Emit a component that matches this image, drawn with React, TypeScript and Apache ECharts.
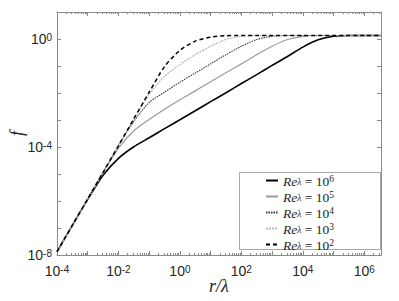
import React, { useEffect, useRef } from 'react';
import * as echarts from 'echarts';

// r / lambda sample positions
const rValues = [1e-4, 3.16e-4, 1e-3, 3.16e-3, 1e-2, 3.16e-2, 0.1, 0.316, 1, 3.16, 10, 31.6, 100, 316, 1e3, 3.16e3, 1e4, 3.16e4, 1e5, 3.16e5, 1e6, 3.5e6];

// f values, one array per Re_lambda
const fRe6 = [1.32e-8, 1.26e-7, 1.15e-6, 8.91e-6, 3.8e-5, 1.02e-4, 2.19e-4, 4.79e-4, 1.02e-3, 2.19e-3, 4.79e-3, 1.02e-2, 2.24e-2, 4.79e-2, 0.105, 0.224, 0.5, 0.93, 1.26, 1.35, 1.35, 1.35];
const fRe5 = [1.32e-8, 1.26e-7, 1.2e-6, 1.15e-5, 8.91e-5, 3.98e-4, 1.05e-3, 2.51e-3, 5.62e-3, 1.2e-2, 2.63e-2, 5.62e-2, 0.12, 0.263, 0.537, 0.955, 1.26, 1.35, 1.35, 1.35, 1.35, 1.35];
const fRe4 = [1.32e-8, 1.26e-7, 1.2e-6, 1.15e-5, 1.12e-4, 8.91e-4, 4.47e-3, 1.07e-2, 2.51e-2, 5.5e-2, 0.12, 0.263, 0.537, 0.955, 1.26, 1.35, 1.35, 1.35, 1.35, 1.35, 1.35, 1.35];
const fRe3 = [1.32e-8, 1.26e-7, 1.2e-6, 1.15e-5, 1.12e-4, 1.1e-3, 8.91e-3, 4.17e-2, 0.112, 0.263, 0.537, 0.955, 1.26, 1.35, 1.35, 1.35, 1.35, 1.35, 1.35, 1.35, 1.35, 1.35];
const fRe2 = [1.32e-8, 1.26e-7, 1.2e-6, 1.15e-5, 1.12e-4, 1.1e-3, 1.07e-2, 9.55e-2, 0.38, 0.832, 1.175, 1.32, 1.35, 1.35, 1.35, 1.35, 1.35, 1.35, 1.35, 1.35, 1.35, 1.35];

const seriesNames = ['Re6', 'Re5', 'Re4', 'Re3', 'Re2'];
const reExponents = ['6', '5', '4', '3', '2'];
const xLabelExponents = [-4, -2, 0, 2, 4, 6];
const yLabelExponents = [-8, -4, 0];

const xMin = 1e-4;
const xMax = 3.5e6;
const yMin = 1e-8;
const yMax = 10;

const AXIS_COLOR = '#8a8a8a';
const TEXT_COLOR = '#262626';

function powLabel(v: number, allowed: number[]) {
  const l = Math.log10(v);
  const e = Math.round(l);
  if (Math.abs(l - e) > 1e-6) return '';
  if (!allowed.includes(e)) return '';
  return `{b|10}{s|${e}}`;
}

const labelRich = {
  b: { fontSize: 14, lineHeight: 14, fontFamily: 'Liberation Sans', color: TEXT_COLOR, padding: [5, 0, 0, 0], verticalAlign: 'bottom' },
  s: { fontSize: 10, lineHeight: 10, fontFamily: 'Liberation Sans', color: TEXT_COLOR, verticalAlign: 'top' },
};

export default function App() {
  const ref = useRef<HTMLDivElement>(null);
  useEffect(() => {
    const chart = echarts.init(ref.current!, null, { renderer: 'svg' });
    const dataSets = [fRe6, fRe5, fRe4, fRe3, fRe2];
    const styles = [
      { color: '#000000', width: 1.6, type: 'solid' as any },
      { color: '#9a9a9a', width: 1.2, type: 'solid' as any },
      { color: '#3a3a3a', width: 1.1, type: [1.5, 1] as any },
      { color: '#b8b8b8', width: 1.2, type: [2, 1] as any },
      { color: '#000000', width: 1.5, type: [4, 3] as any },
    ];
    const series = seriesNames.map((name, i) => ({
      name,
      type: 'line',
      xAxisIndex: 0,
      yAxisIndex: 0,
      symbol: 'none',
      smooth: 0.25,
      z: 2,
      lineStyle: styles[i],
      itemStyle: { color: styles[i].color },
      data: rValues.map((r, j) => [r, dataSets[i][j]]),
    }));

    const baseX = {
      type: 'log',
      logBase: 10,
      min: xMin,
      max: xMax,
      interval: 1,
      axisLine: { show: true, onZero: false, lineStyle: { color: AXIS_COLOR, width: 1 } },
      axisTick: { show: true, inside: true, length: 4, lineStyle: { color: AXIS_COLOR } },
      minorTick: { show: true, splitNumber: 9, length: 2, lineStyle: { color: AXIS_COLOR } },
      splitLine: { show: false },
      minorSplitLine: { show: false },
    };
    const baseY = {
      type: 'log',
      logBase: 10,
      min: yMin,
      max: yMax,
      interval: 1,
      axisLine: { show: true, onZero: false, lineStyle: { color: AXIS_COLOR, width: 1 } },
      axisTick: { show: true, inside: true, length: 4, lineStyle: { color: AXIS_COLOR } },
      splitLine: { show: false },
    };

    chart.setOption({
      animation: false,
      backgroundColor: '#ffffff',
      grid: { left: 57, right: 18, top: 12, bottom: 46, containLabel: false, outerBoundsMode: 'none' },
      xAxis: [
        {
          ...baseX,
          position: 'bottom',
          name: 'r/λ',
          nameLocation: 'middle',
          nameGap: 22,
          nameMoveOverlap: false,
          nameTextStyle: { fontFamily: 'Liberation Serif', fontStyle: 'italic', fontSize: 18, color: TEXT_COLOR },
          axisLabel: {
            show: true,
            margin: 9,
            formatter: (v: number) => powLabel(v, xLabelExponents),
            rich: labelRich,
          },
        },
        { ...baseX, position: 'top', axisLabel: { show: false } },
      ],
      yAxis: [
        {
          ...baseY,
          position: 'left',
          name: 'f',
          nameLocation: 'middle',
          nameGap: 31,
          nameMoveOverlap: false,
          nameTextStyle: { fontFamily: 'Liberation Serif', fontStyle: 'italic', fontSize: 18, color: TEXT_COLOR },
          axisLabel: {
            show: true,
            margin: 5,
            formatter: (v: number) => powLabel(v, yLabelExponents),
            rich: labelRich,
          },
        },
        { ...baseY, position: 'right', axisLabel: { show: false } },
      ],
      graphic: [
        {
          type: 'rect',
          z: 10,
          shape: { x: 239.5, y: 172.5, width: 141, height: 77 },
          style: { fill: '#ffffff', stroke: '#a8a8a8', lineWidth: 1 },
        },
      ],
      legend: {
        show: true,
        z: 20,
        orient: 'vertical',
        left: 265,
        top: 171,
        data: seriesNames,
        itemWidth: 12,
        itemHeight: 10,
        itemGap: -3,
        padding: 0,
        itemStyle: { opacity: 0, borderWidth: 0 },
        formatter: (name: string) => {
          const i = seriesNames.indexOf(name);
          return `{i|Re}{l|λ}{t| = 10}{p|${reExponents[i]}}`;
        },
        textStyle: {
          color: TEXT_COLOR,
          rich: {
            i: { fontFamily: 'Liberation Serif', fontStyle: 'italic', fontSize: 13.5, lineHeight: 13, padding: [3, 0, 2, 0], color: TEXT_COLOR },
            l: { fontFamily: 'Liberation Serif', fontStyle: 'italic', fontSize: 9.5, lineHeight: 9, verticalAlign: 'bottom', color: TEXT_COLOR },
            t: { fontFamily: 'Liberation Serif', fontSize: 13.5, lineHeight: 13, padding: [3, 0, 2, 0], color: TEXT_COLOR },
            p: { fontFamily: 'Liberation Serif', fontSize: 9.5, lineHeight: 9, verticalAlign: 'top', color: TEXT_COLOR },
          },
        },
      },
      series,
    } as any);
    return () => chart.dispose();
  }, []);
  return <div ref={ref} style={{ position: 'absolute', left: 0, top: 0, width: 399, height: 301 }} />;
}
